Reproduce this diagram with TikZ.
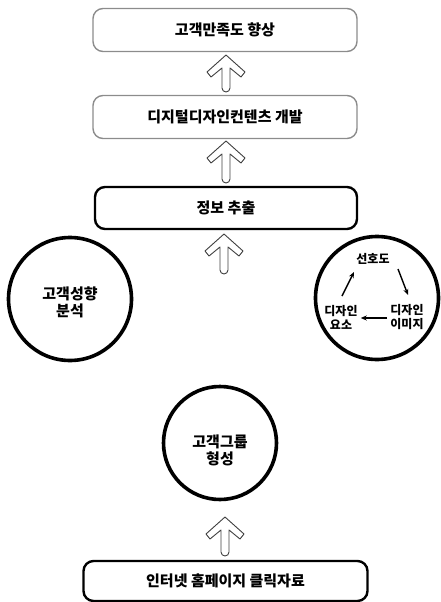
\documentclass[tikz,border=0pt]{standalone}
\usepackage{fontspec}
\setmainfont{Noto Sans CJK KR}
\usetikzlibrary{calc,arrows.meta}
\tikzset{
  softbox/.style={draw=black!45, line width=1.4pt, rounded corners=10pt, minimum width=264pt, minimum height=43pt, font=\fontsize{15}{18}\selectfont\bfseries},
  hardbox/.style={draw=black, line width=2.4pt, rounded corners=10pt, minimum width=262pt, minimum height=42pt, font=\fontsize{15}{18}\selectfont\bfseries},
  bigcircle/.style={circle, draw=black, line width=3.6pt, inner sep=0pt, align=center, font=\fontsize{15}{18}\selectfont\bfseries},
  small/.style={align=center, inner sep=1pt, font=\fontsize{12}{14}\selectfont\bfseries},
  thinarrow/.style={-{Stealth[length=6pt,width=5pt]}, line width=1.4pt},
  blockarrow/.style={draw=black!75, line width=0.9pt, fill=white, line join=round}
}
\newcommand{\hollowup}[2]{% tip coordinate name, length
  \draw[blockarrow] (#1) -- ++(19,17) -- ++(-4,5) -- ++(-11,-9) -- ++(0,#2-15)
    arc[start angle=0,end angle=180,radius=4] -- ++(0,-#2+15) -- ++(-11,9) -- ++(-4,-5) -- cycle;}
\begin{document}
\begin{tikzpicture}[x=1pt,y=-1pt]
\useasboundingbox (0,0) rectangle (441,602);
\node[softbox] (goal) at (225,30) {고객만족도 향상};
\node[softbox] (content) at (225,117) {디지털디자인컨텐츠 개발};
\node[hardbox] (extract) at (226,208) {정보 추출};
\node[bigcircle, minimum size=123pt] (tend) at (70,299) {};
\node[bigcircle, align=center, draw=none] (tendtext) at (70,302) {고객성향\\[-1pt]분석};
\node[bigcircle, minimum size=123pt] (design) at (377,298) {};
\node[bigcircle, minimum size=113pt] (group) at (220,443) {};
\node[bigcircle, align=center, draw=none] (grouptext) at (220,450) {고객그룹\\[-1pt]형성};
\node[hardbox, minimum width=284pt, minimum height=40pt] (click) at (225.5,581) {인터넷 홈페이지 클릭자료};
% inner cycle
\node[small] (pref) at (373,259) {선호도};
\node[small] (img) at (407,317) {디자인\\이미지};
\node[small] (elem) at (341,317) {디자인\\요소};
\draw[thinarrow] (398,269) -- (408,295);
\draw[thinarrow] ($(img.west)+(-2,1)$) -- ($(elem.east)+(2,1)$);
\draw[thinarrow] (342,296) -- (354,272);
% block arrows
\coordinate (t1) at (226,55);
\coordinate (t2) at (226,141);
\coordinate (t3) at (224,234);
\coordinate (t4) at (225,517);
\hollowup{t1}{35}
\hollowup{t2}{40}
\hollowup{t3}{38}
\hollowup{t4}{37}
\end{tikzpicture}
\end{document}
